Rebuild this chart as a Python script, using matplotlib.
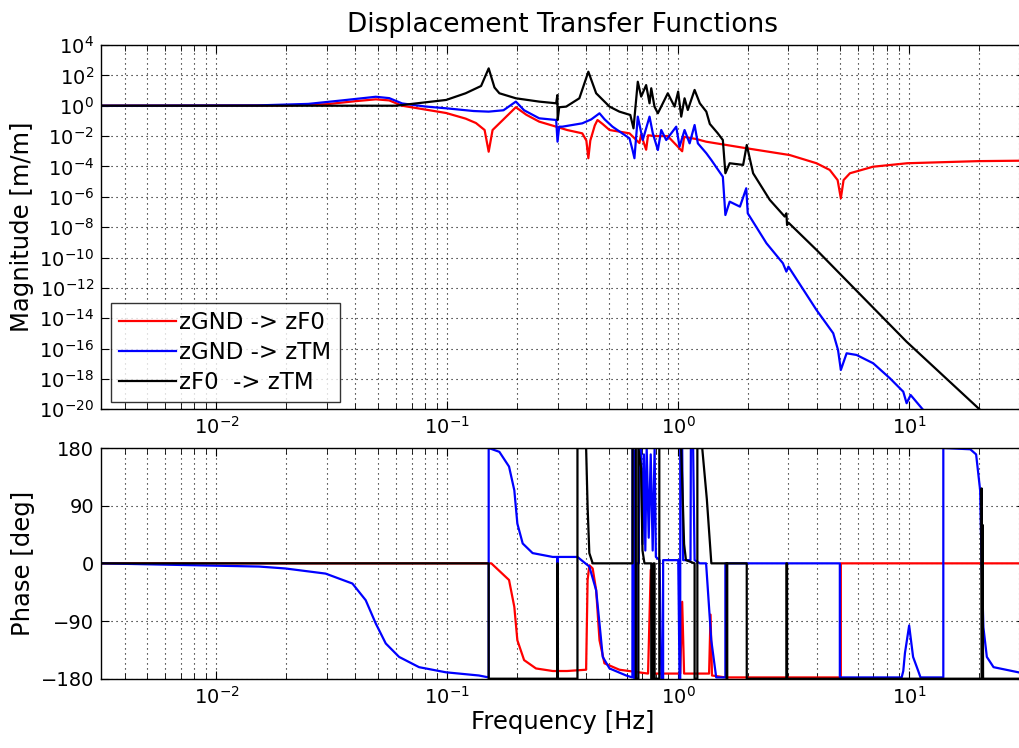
import numpy as np
import matplotlib
matplotlib.use("Agg")
import matplotlib.pyplot as plt
from matplotlib.ticker import LogLocator, NullFormatter, FixedLocator

plt.rcParams['font.family'] = ['DejaVu Sans']

# ---------------- data ----------------
legend_labels = ["zGND -> zF0", "zGND -> zTM", "zF0  -> zTM"]
colors = ["#ff0000", "#0000ff", "#000000"]

# magnitude: frequency [Hz] and log10(|H|)
red_mag_f = [0.00316, 0.02, 0.03, 0.04, 0.049, 0.056, 0.0637, 0.0988, 0.120, 0.133, 0.145,
             0.151, 0.157, 0.175, 0.198, 0.22, 0.250, 0.296, 0.330, 0.384, 0.400, 0.408,
             0.416, 0.435, 0.447, 0.47, 0.504, 0.615, 0.679, 0.69, 0.726, 0.74, 0.8, 0.9,
             1.04, 1.06, 1.2, 1.32, 1.97, 3.04, 3.97, 4.53, 4.9, 5.06, 5.2, 5.54, 6.97,
             9.8, 20.0, 31.6]
red_mag_log = [0.0, 0.02, 0.1, 0.3, 0.42, 0.35, 0.0, -0.48, -0.85, -1.14, -1.6,
               -3.03, -1.6, -0.9, -0.1, -0.6, -1.05, -1.38, -1.6, -1.82, -2.3, -3.46,
               -2.3, -1.3, -0.94, -1.2, -1.6, -1.82, -2.46, -1.9, -2.9, -1.95, -2.0, -2.0,
               -3.0, -2.05, -2.2, -2.37, -2.8, -3.25, -3.79, -4.23, -4.9, -6.1, -4.9, -4.45, -4.02,
               -3.79, -3.65, -3.62]

blue_mag_f = [0.00316, 0.015, 0.025, 0.035, 0.049, 0.056, 0.0637, 0.08, 0.0988, 0.13,
              0.151, 0.175, 0.198, 0.215, 0.25, 0.296, 0.300, 0.305, 0.315, 0.384, 0.42,
              0.456, 0.48, 0.519, 0.615, 0.634, 0.646, 0.668, 0.702, 0.751, 0.776, 0.816,
              0.844, 0.887, 0.980, 1.013, 1.065, 1.12, 1.177, 1.216, 1.323, 1.391, 1.56,
              1.60, 1.67, 1.85, 1.97, 2.00, 2.41, 2.84, 2.94, 3.0, 3.97, 4.69, 4.92, 5.06,
              5.36, 5.92, 6.99, 8.26, 9.43, 9.75, 10.15, 11.5, 13.0]
blue_mag_log = [0.0, 0.02, 0.12, 0.35, 0.59, 0.5, 0.15, -0.05, -0.17, -0.35,
                -0.39, -0.3, 0.27, -0.3, -0.83, -0.94, -2.37, -1.38, -1.38, -1.16, -0.9,
                -0.5, -0.9, -1.38, -2.15, -2.92, -3.46, -0.72, -2.26, -0.72, -1.82, -2.92,
                -1.6, -2.26, -1.38, -2.7, -1.6, -2.48, -1.27, -2.48, -3.13, -3.58, -4.68,
                -7.2, -6.32, -6.65, -5.44, -7.09, -9.06, -10.38, -10.93, -10.6, -13.46, -14.99,
                -16.09, -17.41, -16.31, -16.42, -16.97, -17.96, -18.84, -19.6, -19.06, -20.04, -21.0]

black_mag_f = [0.00316, 0.06, 0.0988, 0.12, 0.14, 0.151, 0.16, 0.168, 0.198, 0.25, 0.296,
               0.2995, 0.3005, 0.305, 0.327, 0.373, 0.408, 0.441, 0.504, 0.556, 0.62,
               0.640, 0.668, 0.691, 0.726, 0.751, 0.764, 0.789, 0.816, 0.901, 0.964, 0.999,
               1.03, 1.065, 1.10, 1.177, 1.24, 1.323, 1.37, 1.48, 1.56, 1.60, 1.67, 1.91,
               1.98, 2.11, 2.49, 2.89, 2.94, 2.96, 3.0, 3.97, 9.75, 20.3, 25.0]
black_mag_log = [0.0, 0.0, 0.38, 0.82, 1.3, 2.46, 1.2, 0.82, 0.49, 0.27, 0.16,
                 0.7, -0.94, -0.1, -0.06, 0.49, 2.24, 0.82, -0.06, -0.39, -0.61,
                 -1.49, 1.58, 0.6, 1.36, 0.16, 1.15, -0.06, -0.5, 0.82, -0.06, 0.93,
                 -0.72, 0.49, -0.28, 1.04, 0.16, -0.39, -1.2, -1.8, -2.26, -4.45, -3.79, -3.9,
                 -2.59, -4.45, -6.2, -7.3, -7.09, -7.86, -7.7, -9.5, -15.55, -20.04, -21.5]

# phase: frequency [Hz] and phase [deg]
red_ph_f = [0.00316, 0.151, 0.155, 0.185, 0.195, 0.201, 0.215, 0.242, 0.286, 0.33, 0.399,
            0.405, 0.412, 0.426, 0.441, 0.456, 0.479, 0.556, 0.74, 0.76, 0.78, 1.02, 1.04,
            1.06, 1.36, 1.38, 1.40, 1.6, 5.06, 5.06, 31.6]
red_ph = [0, 0, 0, -26, -68, -120, -151, -164, -168, -168, -166,
          -26, -3, -8, -42, -120, -156, -166, -172, -10, -172, -172, -60,
          -172, -172, -80, -175, -178, -178, 0, 0]

blue_ph_f = [0.00316, 0.0153, 0.0199, 0.0297, 0.0388, 0.0443, 0.049, 0.0541, 0.0618, 0.0754,
             0.0985, 0.137, 0.151, 0.151, 0.168, 0.185, 0.195, 0.201, 0.212, 0.234, 0.286,
             0.2995, 0.2995, 0.3005, 0.3005, 0.366, 0.412, 0.441, 0.456, 0.471, 0.504, 0.595,
             0.633, 0.634, 0.645, 0.645, 0.66, 0.66, 0.675, 0.675, 0.69, 0.70, 0.71, 0.72,
             0.73, 0.745, 0.76, 0.775, 0.79, 0.80, 0.83, 0.845, 0.86, 0.86, 1.0, 1.013,
             1.02, 1.02, 1.04, 1.05, 1.13, 1.134, 1.16, 1.177, 1.24, 1.32, 1.39, 1.46,
             1.60, 1.60, 5.01, 5.01, 9.28, 9.43, 9.59, 10.0, 10.4, 10.95, 11.2, 14.06,
             14.06, 18.4, 19.5, 20.3, 20.6, 20.97, 21.7, 23.2, 31.6]
blue_ph = [0, -5, -8, -16, -31.5, -57.5, -94, -125, -146, -162,
           -170, -175, -178, 180, 174, 151, 114, 62, 31, 16, 10,
           10, -150, -150, 10, 10, -5, -42, -94, -146, -164, -175,
           -178, 180, 175, -180, -180, 0, 0, 180, 180, 30, 170, 20,
           180, 40, 170, 20, 180, 10, 5, -180, -180, 5, 5, -180,
           -180, 180, 180, 5, 5, 180, 180, 5, 0, 0, -120, -178,
           -178, 0, 0, -178, -178, -168, -140, -97, -146, -168, -178, -178,
           180, 178, 170, 114, 0, -100, -146, -162, -172]

black_ph_f = [0.00316, 0.151, 0.151, 0.2995, 0.2995, 0.3005, 0.3005, 0.366, 0.366, 0.399,
              0.405, 0.412, 0.426, 0.634, 0.634, 0.655, 0.655, 0.672, 0.672, 0.69, 0.70,
              0.714, 0.764, 0.764, 0.78, 0.78, 0.79, 0.79, 0.828, 0.828, 1.03, 1.06, 1.08,
              1.177, 1.177, 1.21, 1.21, 1.27, 1.33, 1.391, 1.62, 1.62, 1.63, 1.63, 1.98,
              1.98, 2.94, 2.94, 2.96, 2.96, 20.6, 20.6, 20.7, 20.8, 20.9, 31.6]
black_ph = [0, 0, -180, -180, 0, 0, -180, -180, 180, 180,
            88, 16, 0, 0, 180, 180, -180, -180, 180, 150, 20,
            0, 0, -180, -180, 0, 0, -180, -180, 180, 180, 30, 5,
            0, -180, -180, 180, 180, 100, 0, 0, -180, -180, 0, 0,
            -180, -180, 0, 0, -180, -180, 117, -180, 60, -180, -180]

series_mag = [(red_mag_f, red_mag_log), (blue_mag_f, blue_mag_log), (black_mag_f, black_mag_log)]
series_ph = [(red_ph_f, red_ph), (blue_ph_f, blue_ph), (black_ph_f, black_ph)]

# ---------------- figure ----------------
W, H = 1019, 748
fig = plt.figure(figsize=(W / 100, H / 100), dpi=100)
ax1 = fig.add_axes([101 / W, 1 - 409.3 / H, (1024.6 - 101) / W, (409.3 - 45) / H])
ax2 = fig.add_axes([101 / W, 1 - 678.7 / H, (1024.6 - 101) / W, (678.7 - 448) / H])

lw = 1.6
for (f, m), c, lab in zip(series_mag, colors, legend_labels):
    ax1.plot(f, 10.0 ** np.array(m), color=c, lw=lw, label=lab)
for (f, p), c in zip(series_ph, colors):
    ax2.plot(f, p, color=c, lw=lw)

grid_kw = dict(color='black', linestyle=(0, (1, 3.5)), linewidth=0.8)
for ax in (ax1, ax2):
    ax.set_xscale('log')
    ax.set_xlim(10 ** -2.5, 10 ** 1.5)
    ax.xaxis.set_major_locator(FixedLocator([1e-2, 1e-1, 1e0, 1e1]))
    ax.xaxis.set_minor_locator(LogLocator(base=10, subs=np.arange(2, 10), numticks=20))
    ax.xaxis.set_minor_formatter(NullFormatter())
    ax.set_xticklabels([r'$10^{-2}$', r'$10^{-1}$', r'$10^{0}$', r'$10^{1}$'])
    ax.tick_params(which='both', direction='in', top=True, right=True, labelsize=14)
    ax.tick_params(which='major', length=6, pad=5)
    ax.tick_params(which='minor', length=4)
    ax.grid(True, which='major', **grid_kw)
    ax.grid(True, which='minor', axis='x', **grid_kw)
    for s in ax.spines.values():
        s.set_linewidth(1.0)
    ax.set_axisbelow(True)

ax1.set_yscale('log')
ax1.set_ylim(1e-20, 1e4)
yt = [10.0 ** k for k in range(-20, 5, 2)]
ax1.yaxis.set_major_locator(FixedLocator(yt))
ax1.yaxis.set_minor_locator(FixedLocator([]))
ax1.set_yticklabels([r'$10^{%d}$' % k for k in range(-20, 5, 2)])

ax2.set_ylim(-180, 180)
ax2.set_yticks([-180, -90, 0, 90, 180])
ax2.set_yticklabels(['\u2212180', '\u221290', '0', '90', '180'])

ax1.set_title('Displacement Transfer Functions', fontsize=19, pad=9)
ax1.set_ylabel('Magnitude [m/m]', fontsize=17.5, labelpad=4)
ax2.set_ylabel('Phase [deg]', fontsize=17.5, labelpad=4)
ax2.set_xlabel('Frequency [Hz]', fontsize=17.5, labelpad=2)

leg = ax1.legend(loc='lower left', bbox_to_anchor=(0.0105, 0.02), fontsize=16.5, frameon=True,
                 fancybox=False, edgecolor='black', handlelength=2.5, borderpad=0.35,
                 labelspacing=0.3, handletextpad=0.15, borderaxespad=0.0)
leg.get_frame().set_linewidth(1.0)

fig.savefig('out.png', dpi=100)
